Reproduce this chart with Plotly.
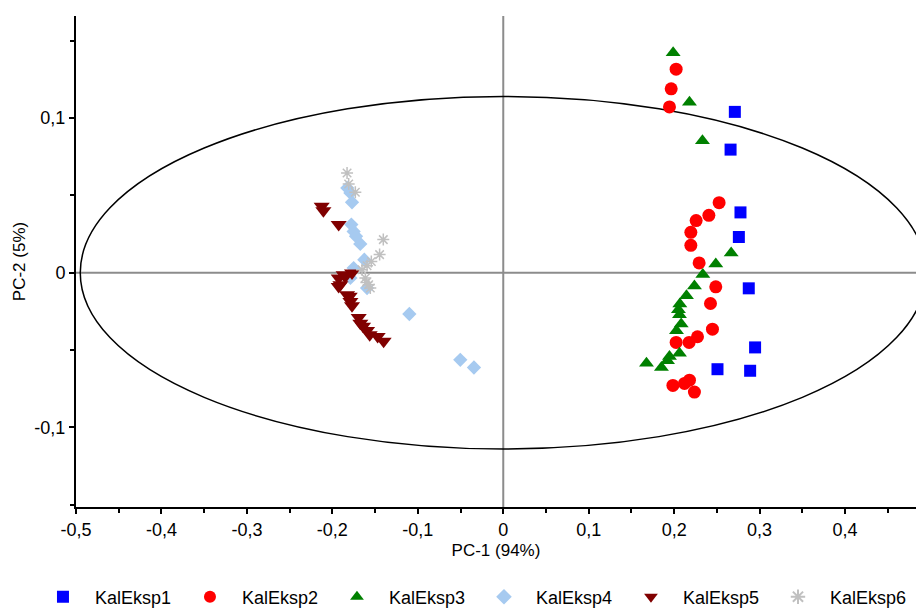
import plotly.graph_objects as go

k1_x = [0.271, 0.266, 0.2776, 0.2757, 0.2873, 0.2947, 0.2507, 0.2889]
k1_y = [0.104, 0.0796, 0.039, 0.0231, -0.0101, -0.0483, -0.0624, -0.0634]

k2_x = [0.2023, 0.1965, 0.1945, 0.2526, 0.2406, 0.2257, 0.2195, 0.2195, 0.2292, 0.2487,
        0.2425, 0.2448, 0.2273, 0.2175, 0.2023, 0.2179, 0.2121, 0.1985, 0.2237]
k2_y = [0.1316, 0.1189, 0.1072, 0.0453, 0.0371, 0.0337, 0.0261, 0.0177, 0.0063, -0.0091,
        -0.0199, -0.0365, -0.0414, -0.0451, -0.0451, -0.0695, -0.0716, -0.0729, -0.0772]

k3_x = [0.1988, 0.2179, 0.2331, 0.2667, 0.2487, 0.2335, 0.2237, 0.2144, 0.2066, 0.2062,
        0.2082, 0.2027, 0.2062, 0.1945, 0.1922, 0.1676, 0.1851, 0.205]
k3_y = [0.1422, 0.1102, 0.0854, 0.0127, 0.0056, -0.0011, -0.0086, -0.0149, -0.0203, -0.0272,
        -0.0332, -0.0375, -0.052, -0.0542, -0.057, -0.0585, -0.0613, -0.024]

k4_x = [-0.1825, -0.1789, -0.177, -0.1778, -0.1751, -0.1723, -0.1673, -0.1626, -0.1751,
        -0.1789, -0.1594, -0.1099, -0.0503, -0.0343]
k4_y = [0.0548, 0.0516, 0.0455, 0.0311, 0.0267, 0.0235, 0.0186, 0.0084, 0.003,
        -0.0034, -0.0099, -0.0267, -0.0563, -0.0613]

k5_x = [-0.2125, -0.2105, -0.1926, -0.177, -0.1868, -0.1926, -0.1906, -0.1926, -0.1828,
        -0.1797, -0.1789, -0.177, -0.1692, -0.1673, -0.1641, -0.1594, -0.1563, -0.147,
        -0.14, -0.1848]
k5_y = [0.043, 0.040, 0.0311, -0.0002, -0.0013, -0.0034, -0.0078, -0.0089, -0.0142,
        -0.0153, -0.0186, -0.0214, -0.0289, -0.0326, -0.0347, -0.0373, -0.0401, -0.0412,
        -0.0444, -0.0024]

k6_x = [-0.1828, -0.1809, -0.1731, -0.1404, -0.1447, -0.1544, -0.1594, -0.1653, -0.1614,
        -0.1575, -0.1556, -0.1602]
k6_y = [0.0645, 0.0574, 0.052, 0.0214, 0.0117, 0.0073, 0.0045, 0.0019, -0.0034,
        -0.0078, -0.0099, -0.0063]

series_names = ["KalEksp1", "KalEksp2", "KalEksp3", "KalEksp4", "KalEksp5", "KalEksp6"]
series_colors = ["#0000FF", "#FF0000", "#008000", "#A6CAF0", "#800000", "#C0C0C0"]
series_symbols = ["square", "circle", "triangle-up", "diamond", "triangle-down", "asterisk"]
series_sizes = [12, 13, 13, 11, 14, 10]
series_x = [k1_x, k2_x, k3_x, k4_x, k5_x, k6_x]
series_y = [k1_y, k2_y, k3_y, k4_y, k5_y, k6_y]

x_tickvals = [-0.5, -0.4, -0.3, -0.2, -0.1, 0, 0.1, 0.2, 0.3, 0.4]
x_ticktext = ["-0,5", "-0,4", "-0,3", "-0,2", "-0,1", "0", "0,1", "0,2", "0,3", "0,4"]
y_tickvals = [-0.1, 0, 0.1]
y_ticktext = ["-0,1", "0", "0,1"]

ellipse_rx = 0.495
ellipse_ry = 0.114

font_family = "Liberation Sans, Arial, sans-serif"

fig = go.Figure()

fig.add_shape(type="line", x0=0, x1=0, y0=-0.1515, y1=0.166, xref="x", yref="y",
              line=dict(color="#8c8c8c", width=2), layer="below")
fig.add_shape(type="line", x0=-0.5, x1=0.483, y0=0, y1=0, xref="x", yref="y",
              line=dict(color="#8c8c8c", width=2), layer="below")
fig.add_shape(type="circle", x0=-ellipse_rx, x1=ellipse_rx, y0=-ellipse_ry, y1=ellipse_ry,
              xref="x", yref="y", line=dict(color="black", width=1.5), layer="below")

for name, color, sym, size, xs, ys in zip(series_names, series_colors, series_symbols,
                                           series_sizes, series_x, series_y):
    marker = dict(color=color, symbol=sym, size=size)
    if sym == "asterisk":
        marker["line"] = dict(color=color, width=1.5)
    else:
        marker["line"] = dict(width=0)
    fig.add_trace(go.Scatter(x=xs, y=ys, mode="markers", name=name, marker=marker))

axis_common = dict(showline=True, linecolor="black", linewidth=2, ticks="outside",
                   ticklen=5, tickwidth=1.5, tickcolor="black", showgrid=False,
                   zeroline=False, automargin=False,
                   tickfont=dict(size=18, color="black", family=font_family))

fig.update_xaxes(range=[-0.5, 0.483], tickvals=x_tickvals, ticktext=x_ticktext,
                 title=dict(text="PC-1 (94%)", font=dict(size=17, color="black", family=font_family), standoff=6),
                 minor=dict(dtick=0.05, tick0=0, ticks="outside", ticklen=4, tickcolor="black", showgrid=False),
                 **axis_common)
fig.update_yaxes(range=[-0.1515, 0.166], tickvals=y_tickvals, ticktext=y_ticktext,
                 title=dict(text="PC-2 (5%)", font=dict(size=17, color="black", family=font_family), standoff=4),
                 minor=dict(dtick=0.05, tick0=0, ticks="outside", ticklen=4, tickcolor="black", showgrid=False),
                 **axis_common)

fig.update_layout(
    width=916, height=608,
    margin=dict(l=76, r=0, t=16, b=101, autoexpand=False),
    plot_bgcolor="white", paper_bgcolor="white",
    font=dict(family=font_family, size=18, color="black"),
    showlegend=True,
    legend=dict(orientation="h", x=-0.0536, xanchor="left", y=-0.1833, yanchor="middle",
                itemwidth=54, entrywidth=78, entrywidthmode="pixels", font=dict(size=18),
                itemsizing="constant"),
)

fig.write_html("out.html", config={"displayModeBar": False},
               post_script="document.body.style.margin='0';")
